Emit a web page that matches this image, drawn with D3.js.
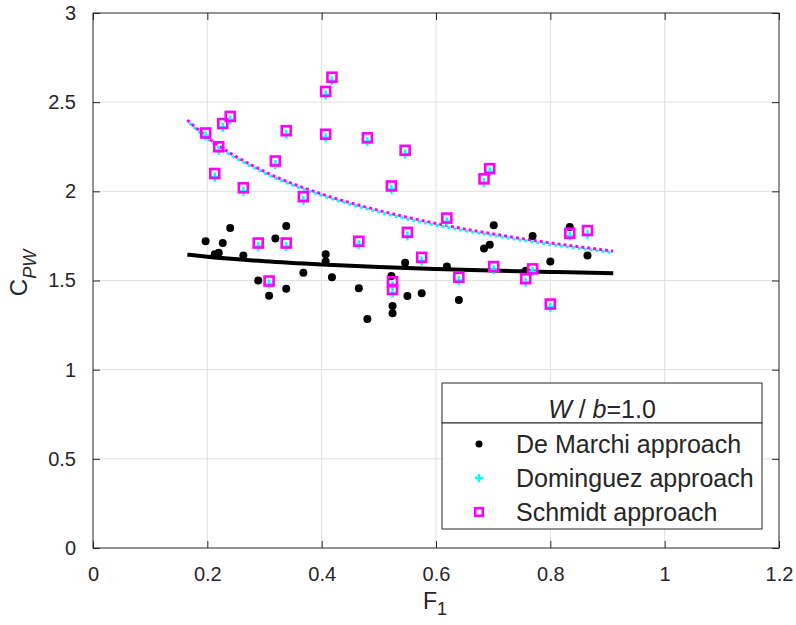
<!DOCTYPE html>
<html>
<head>
<meta charset="utf-8">
<script src="https://cdn.jsdelivr.net/npm/d3@7/dist/d3.min.js"></script>
<style>
  body { margin: 0; background: #fff; }
  svg { font-family: "Liberation Sans", Arial, sans-serif; }
</style>
</head>
<body>
<svg id="chart" width="796" height="625"></svg>
<script>
// F1 values shared by the three approaches
var f1 = [0.197, 0.213, 0.220, 0.227, 0.240, 0.263, 0.289, 0.308, 0.319, 0.338, 0.338,
  0.368, 0.407, 0.418, 0.407, 0.465, 0.480, 0.522, 0.524, 0.524, 0.546, 0.550, 0.575,
  0.619, 0.640, 0.684, 0.694, 0.701, 0.757, 0.769, 0.800, 0.834, 0.865];

var deMarchi = [1.72, 1.647, 1.656, 1.71, 1.795, 1.64, 1.50, 1.415, 1.735, 1.806, 1.454,
  1.544, 1.647, 1.518, 1.606, 1.456, 1.284, 1.525, 1.357, 1.316, 1.60, 1.413, 1.428,
  1.578, 1.39, 1.68, 1.70, 1.81, 1.555, 1.75, 1.606, 1.80, 1.64];

var dominguez = [2.31, 2.08, 2.23, 2.36, 2.40, 2.00, 1.69, 1.48, 2.15, 2.32, 1.69,
  1.95, 2.54, 2.62, 2.30, 1.70, 2.28, 2.01, 1.47, 1.43, 2.21, 1.75, 1.61,
  1.83, 1.50, 2.05, 2.11, 1.56, 1.49, 1.55, 1.35, 1.75, 1.76];

var schmidt = [2.327, 2.10, 2.25, 2.38, 2.42, 2.02, 1.71, 1.497, 2.17, 2.34, 1.71,
  1.97, 2.56, 2.64, 2.32, 1.72, 2.30, 2.03, 1.493, 1.45, 2.23, 1.77, 1.63,
  1.85, 1.518, 2.07, 2.127, 1.578, 1.51, 1.565, 1.368, 1.765, 1.78];

// fitted curves
var fitF = [0.165, 0.2, 0.3, 0.4, 0.5, 0.6, 0.7, 0.8, 0.91];
var fitDeMarchi = [1.645, 1.633, 1.608, 1.590, 1.576, 1.565, 1.556, 1.548, 1.540];
var fitDominguez = [2.395, 2.295, 2.103, 1.977, 1.884, 1.810, 1.752, 1.702, 1.656];
var fitSchmidt = [2.40, 2.303, 2.111, 1.985, 1.893, 1.820, 1.761, 1.711, 1.665];

var xTicks = [0, 0.2, 0.4, 0.6, 0.8, 1, 1.2];
var yTicks = [0, 0.5, 1, 1.5, 2, 2.5, 3];

var svg = d3.select("#chart");
var axisColor = "#262626";

var x = d3.scaleLinear().domain([0, 1.2]).range([93, 779]);
var y = d3.scaleLinear().domain([0, 3]).range([548, 13]);

// grid
svg.append("g").selectAll("line").data(xTicks.slice(1, -1)).enter().append("line")
  .attr("x1", function(d) { return x(d); }).attr("x2", function(d) { return x(d); })
  .attr("y1", y(0)).attr("y2", y(3))
  .attr("stroke", "#e1e1e1").attr("stroke-width", 1);
svg.append("g").selectAll("line").data(yTicks.slice(1, -1)).enter().append("line")
  .attr("x1", x(0)).attr("x2", x(1.2))
  .attr("y1", function(d) { return y(d); }).attr("y2", function(d) { return y(d); })
  .attr("stroke", "#e1e1e1").attr("stroke-width", 1);

// axes (ticks inward on all four sides)
function styleAxis(g) {
  g.select(".domain").remove();
  g.selectAll("line").attr("stroke", axisColor);
  g.selectAll("text").attr("fill", axisColor).style("font-size", "20px");
}
svg.append("g").attr("transform", "translate(0," + y(0) + ")")
  .call(d3.axisBottom(x).tickValues(xTicks).tickFormat(d3.format("")).tickSizeInner(-7).tickPadding(19))
  .call(styleAxis);
svg.append("g").attr("transform", "translate(0," + y(3) + ")")
  .call(d3.axisTop(x).tickValues(xTicks).tickFormat("").tickSizeInner(-7))
  .call(styleAxis);
svg.append("g").attr("transform", "translate(" + x(0) + ",0)")
  .call(d3.axisLeft(y).tickValues(yTicks).tickFormat(d3.format("")).tickSizeInner(-7).tickPadding(17))
  .call(styleAxis);
svg.append("g").attr("transform", "translate(" + x(1.2) + ",0)")
  .call(d3.axisRight(y).tickValues(yTicks).tickFormat("").tickSizeInner(-7))
  .call(styleAxis);

svg.append("rect")
  .attr("x", x(0)).attr("y", y(3))
  .attr("width", x(1.2) - x(0)).attr("height", y(0) - y(3))
  .attr("fill", "none").attr("stroke", axisColor).attr("stroke-width", 1);

// fitted curves
var line = d3.line()
  .x(function(d) { return x(d[0]); })
  .y(function(d) { return y(d[1]); })
  .curve(d3.curveMonotoneX);

svg.append("path").datum(d3.zip(fitF, fitDeMarchi)).attr("d", line)
  .attr("fill", "none").attr("stroke", "#000").attr("stroke-width", 4);
svg.append("path").datum(d3.zip(fitF, fitDominguez)).attr("d", line)
  .attr("fill", "none").attr("stroke", "#00ffff").attr("stroke-width", 3)
  .attr("stroke-dasharray", "3,3").attr("stroke-dashoffset", 3);
svg.append("path").datum(d3.zip(fitF, fitSchmidt)).attr("d", line)
  .attr("fill", "none").attr("stroke", "#ff00ff").attr("stroke-width", 3)
  .attr("stroke-dasharray", "3,3");

// markers
function plus(g, cx, cy, s) {
  g.append("path")
    .attr("d", "M" + (cx - s) + "," + cy + "H" + (cx + s) + "M" + cx + "," + (cy - s) + "V" + (cy + s))
    .attr("stroke", "#00ffff").attr("stroke-width", 2.5).attr("fill", "none");
}
function square(g, cx, cy, s) {
  g.append("rect").attr("x", cx - s).attr("y", cy - s)
    .attr("width", 2 * s).attr("height", 2 * s)
    .attr("fill", "none").attr("stroke", "#ff00ff").attr("stroke-width", 2.6);
}

svg.append("g").selectAll("circle").data(d3.zip(f1, deMarchi)).enter().append("circle")
  .attr("cx", function(d) { return x(d[0]); })
  .attr("cy", function(d) { return y(d[1]); })
  .attr("r", 4).attr("fill", "#000");

var gDom = svg.append("g");
d3.zip(f1, dominguez).forEach(function(d) { plus(gDom, x(d[0]), y(d[1]), 4.5); });
var gSch = svg.append("g");
d3.zip(f1, schmidt).forEach(function(d) { square(gSch, x(d[0]), y(d[1]), 4.5); });

// axis labels
svg.append("text")
  .attr("x", 435).attr("y", 609)
  .attr("text-anchor", "middle").attr("fill", axisColor)
  .style("font-size", "23px")
  .text("F")
  .append("tspan").attr("dy", 6).style("font-size", "18px").text("1");

svg.append("text")
  .attr("transform", "translate(27,273) rotate(-90)")
  .attr("text-anchor", "middle").attr("fill", axisColor)
  .style("font-size", "24px")
  .text("C")
  .append("tspan").attr("dy", 9).style("font-size", "18px").style("font-style", "italic").text("PW");

// legend
var legend = svg.append("g");
legend.append("rect").attr("x", 442).attr("y", 383).attr("width", 320).attr("height", 40)
  .attr("fill", "#fff").attr("stroke", axisColor).attr("stroke-width", 1);
legend.append("rect").attr("x", 442).attr("y", 423).attr("width", 320).attr("height", 106)
  .attr("fill", "#fff").attr("stroke", axisColor).attr("stroke-width", 1);

var title = legend.append("text").attr("x", 602).attr("y", 418)
  .attr("text-anchor", "middle").attr("fill", axisColor).style("font-size", "25px");
title.append("tspan").style("font-style", "italic").text("W");
title.append("tspan").text(" / ");
title.append("tspan").style("font-style", "italic").text("b");
title.append("tspan").text("=1.0");

var legendNames = ["De Marchi approach", "Dominguez approach", "Schmidt approach"];
legendNames.forEach(function(name, i) {
  var cy = 444 + i * 34;
  if (i == 0) {
    legend.append("circle").attr("cx", 479).attr("cy", cy).attr("r", 3.5).attr("fill", "#000");
  } else if (i == 1) {
    plus(legend, 479, cy, 4);
  } else {
    square(legend, 479, cy, 3.8);
  }
  legend.append("text").attr("x", 516).attr("y", cy + 9)
    .attr("fill", axisColor).style("font-size", "25px").text(name);
});
</script>
</body>
</html>
